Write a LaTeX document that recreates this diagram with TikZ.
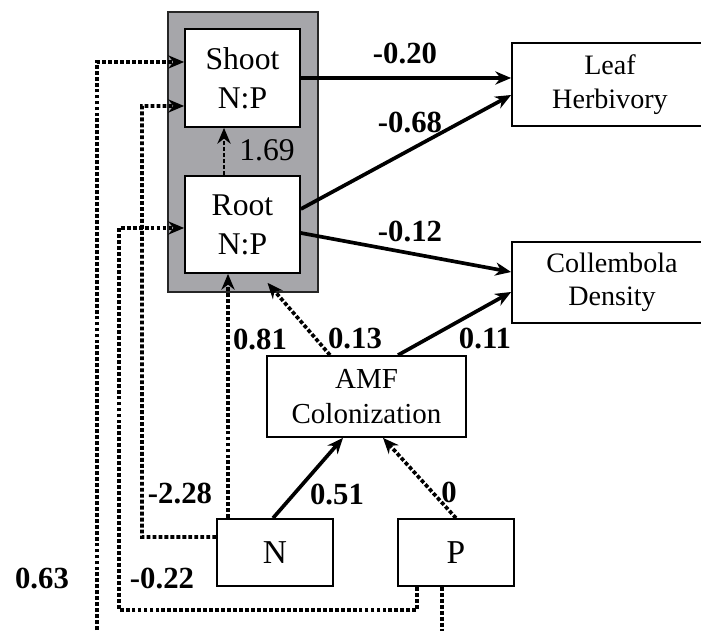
\documentclass[tikz,border=0pt]{standalone}
\usepackage{fontspec}
\setmainfont{Liberation Serif}
\usetikzlibrary{arrows.meta}
\usetikzlibrary{positioning}
\definecolor{plantgray}{RGB}{166,166,170}

\begin{document}
\begin{tikzpicture}[x=0.02cm, y=-0.02cm,
        box/.style={draw, line width=1pt, fill=white, align=center, inner sep=0pt},
        solidarr/.style={line width=2.1pt, -{Stealth[length=9pt,width=7.5pt]}},
        dotarr/.style={line width=2.1pt, dash pattern=on 2.2pt off 1.2pt, -{Stealth[length=9pt,width=7.5pt]}},
        coef/.style={font=\fontsize{17.5}{20}\selectfont\bfseries}]
        \useasboundingbox (0,0) rectangle (701,631);
        \clip (0,0) rectangle (701,631);

        % plant N:P compartment
        \filldraw[draw=black!85, line width=1pt, fill=plantgray] (168,12) rectangle (318,292);

        \node[box, minimum width=2.3cm, minimum height=1.96cm, font=\fontsize{18}{22.2}\selectfont] (shoot) at (242.5,78) {Shoot\\N:P};
        \node[box, minimum width=2.3cm, minimum height=1.94cm, font=\fontsize{18}{22.2}\selectfont] (root) at (242.5,224.5) {Root\\N:P};
        \node[box, minimum width=3.92cm, minimum height=1.66cm, font=\fontsize{16}{19.3}\selectfont] (leaf) at (610,84.5) {Leaf\\Herbivory};
        \node[box, minimum width=4cm, minimum height=1.62cm, font=\fontsize{16}{19}\selectfont] (coll) at (612,282.5) {Collembola\\Density};
        \node[box, minimum width=3.98cm, minimum height=1.62cm, font=\fontsize{16.5}{20}\selectfont] (amf) at (366.5,396.5) {AMF\\Colonization};
        \node[box, minimum width=2.32cm, minimum height=1.34cm, font=\fontsize{19}{22}\selectfont] (n) at (275,552.5) {N};
        \node[box, minimum width=2.32cm, minimum height=1.34cm, font=\fontsize{19}{22}\selectfont] (p) at (456,552.5) {P};

        % solid paths
        \draw[solidarr] (shoot.east) -- (shoot.east -| leaf.west);
        \draw[solidarr] ([yshift=0.31cm]root.east) -- ([yshift=-0.21cm]leaf.west);
        \draw[solidarr] ([yshift=-0.17cm]root.east) -- ([yshift=0.21cm]coll.west);
        \draw[solidarr] ([xshift=0.63cm]amf.north) -- ([yshift=-0.19cm]coll.west);
        \draw[solidarr] ([xshift=-0.04cm]n.north) -- ([xshift=-0.47cm]amf.south);

        % dotted paths
        \draw[dotarr, line width=1.6pt] ([xshift=-0.37cm]root.north) -- ([xshift=-0.37cm]shoot.south);
        \draw[dotarr] (p.north) -- ([xshift=0.33cm]amf.south);
        \draw[dotarr] ([xshift=-0.73cm]amf.north) -- ([xshift=0.5cm,yshift=-0.18cm]root.south);
        \draw[dotarr] ([xshift=-0.94cm]n.north) -- ([xshift=-0.94cm]n.north |- root.south);
        \draw[dotarr] ([yshift=0.31cm]n.west) -| (142,106) -- ([yshift=-0.56cm]shoot.west);
        \draw[dotarr] ([xshift=-0.78cm]p.south) |- (119,610) |- ([yshift=-0.07cm]root.west);
        \draw[dotarr] ([xshift=-0.28cm]p.south) |- (97,660) |- ([yshift=0.32cm]shoot.west);

        % coefficients
        \node[font=\fontsize{18}{20}\selectfont] (k169) at (267,150) {1.69};
        \node[coef] (k020) at (405,53) {-0.20};
        \node[coef] (k068) at (410,122) {-0.68};
        \node[coef] (k012) at (410,231) {-0.12};
        \node[coef] (k081) at (260,339) {0.81};
        \node[coef] (k013) at (355,338) {0.13};
        \node[coef] (k011) at (485,338) {0.11};
        \node[coef] (k051) at (337,494) {0.51};
        \node[coef] (k0) at (449,492) {0};
        \node[coef] (k228) at (180,493) {-2.28};
        \node[coef] (k022) at (162,578) {-0.22};
        \node[coef] (k063) at (42,578) {0.63};
    \end{tikzpicture}
\end{document}
